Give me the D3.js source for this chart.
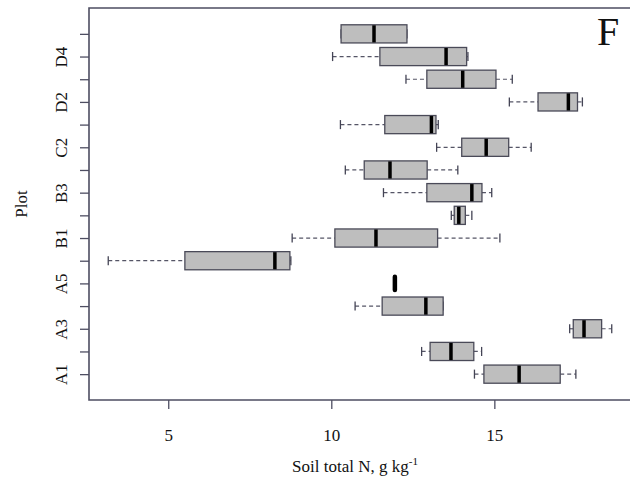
<!DOCTYPE html>
<html>
<head>
<meta charset="utf-8">
<script src="https://cdn.jsdelivr.net/npm/d3@7/dist/d3.min.js"></script>
<style>
  html, body { margin: 0; padding: 0; background: #fff; }
  text { font-family: "Liberation Serif", "DejaVu Serif", serif; fill: #111; }
</style>
</head>
<body>
<svg id="chart" width="630" height="486"></svg>
<script>
// ---- data ----
const plots   = ["A1","A2","A3","A4","A5","A6","B1","B2","B3","C1","C2","D1","D2","D3","D4","D5"];
const whiskLo = [14.39, 12.77, 17.31, 10.73, 11.95, 3.16,  8.80, 13.68, 11.60, 10.43, 13.23, 10.28, 15.46, 12.29, 10.04, 10.30];
const q1      = [14.68, 13.03, 17.42, 11.56, 11.95, 5.51, 10.11, 13.77, 12.93, 11.01, 14.00, 11.64, 16.34, 12.93, 11.49, 10.30];
const median  = [15.76, 13.67, 17.75, 12.90, 11.95, 8.27, 11.37, 13.91, 14.31, 11.80, 14.75, 13.07, 17.27, 14.03, 13.52, 11.31];
const q3      = [17.02, 14.37, 18.29, 13.43, 11.95, 8.73, 13.26, 14.11, 14.62, 12.94, 15.44, 13.21, 17.55, 15.05, 14.15, 12.32];
const whiskHi = [17.50, 14.61, 18.60, 13.43, 11.95, 8.76, 15.17, 14.31, 14.92, 13.88, 16.13, 13.28, 17.70, 15.55, 14.19, 12.32];
const xTicks  = [5, 10, 15];
const xTitle  = "Soil total N, g kg";
const xTitleSup = "-1";
const yTitle  = "Plot";
const panelLabel = "F";

const rows = plots.map((p, i) => ({
  name: p, pos: i + 1,
  lo: whiskLo[i], q1: q1[i], med: median[i], q3: q3[i], hi: whiskHi[i]
}));

const svg = d3.select("#chart");
const mLeft = 89, mRight = 630, mTop = 8, mBottom = 400;
const axisColor = "#4e4e62";

const x = d3.scaleLinear().domain([2.57, 19.16]).range([mLeft, mRight]);
const y = d3.scaleLinear().domain([-0.14, 17.14]).range([mBottom, mTop]);
const half = y(0) - y(0.4);      // box half-height (boxwex 0.8)
const capHalf = y(0) - y(0.2);   // staple half-height

// ---- boxes ----
const g = svg.append("g");
const box = g.selectAll("g.box").data(rows).join("g").attr("class", "box");

// whiskers (dashed)
box.filter(d => d.lo < d.q1).append("line")
  .attr("x1", d => x(d.lo)).attr("x2", d => x(d.q1))
  .attr("y1", d => y(d.pos)).attr("y2", d => y(d.pos))
  .attr("stroke", "#555566").attr("stroke-width", 1.2).attr("stroke-dasharray", "4,3");
box.filter(d => d.hi > d.q3).append("line")
  .attr("x1", d => x(d.q3)).attr("x2", d => x(d.hi))
  .attr("y1", d => y(d.pos)).attr("y2", d => y(d.pos))
  .attr("stroke", "#555566").attr("stroke-width", 1.2).attr("stroke-dasharray", "4,3");
// staples
box.filter(d => d.q3 > d.q1).append("line")
  .attr("x1", d => x(d.lo)).attr("x2", d => x(d.lo))
  .attr("y1", d => y(d.pos) - capHalf).attr("y2", d => y(d.pos) + capHalf)
  .attr("stroke", "#444455").attr("stroke-width", 1.3);
box.filter(d => d.q3 > d.q1).append("line")
  .attr("x1", d => x(d.hi)).attr("x2", d => x(d.hi))
  .attr("y1", d => y(d.pos) - capHalf).attr("y2", d => y(d.pos) + capHalf)
  .attr("stroke", "#444455").attr("stroke-width", 1.3);
// box rect
box.filter(d => d.q3 > d.q1).append("rect")
  .attr("x", d => x(d.q1)).attr("width", d => x(d.q3) - x(d.q1))
  .attr("y", d => y(d.pos) - half).attr("height", 2 * half)
  .attr("fill", "#bebebe").attr("stroke", "#4a4a58").attr("stroke-width", 1.3);
// median
box.append("line")
  .attr("x1", d => x(d.med)).attr("x2", d => x(d.med))
  .attr("y1", d => y(d.pos) - half + (d.q3 > d.q1 ? 0.5 : 2.5))
  .attr("y2", d => y(d.pos) + half - (d.q3 > d.q1 ? 0.5 : 2.5))
  .attr("stroke", "#000").attr("stroke-width", d => d.q3 > d.q1 ? 3.5 : 4.5)
  .attr("stroke-linecap", d => d.q3 > d.q1 ? "butt" : "round");

// ---- frame ----
svg.append("path")
  .attr("d", `M${mRight + 2},${mTop} H${mLeft} V${mBottom} H${mRight + 2}`)
  .attr("fill", "none").attr("stroke", axisColor).attr("stroke-width", 1.6);

// ---- axes ----
const xAxis = svg.append("g").attr("transform", `translate(0,${mBottom})`)
  .call(d3.axisBottom(x).tickValues(xTicks).tickSize(9).tickPadding(20).tickFormat(d3.format("d")));
xAxis.select(".domain").remove();
xAxis.selectAll(".tick line").attr("stroke", axisColor).attr("stroke-width", 1.3);
xAxis.selectAll(".tick text").attr("font-size", 17).attr("font-family", "Liberation Serif").attr("fill", "#111");

const yAxis = svg.append("g").attr("transform", `translate(${mLeft},0)`)
  .call(d3.axisLeft(y).tickValues(rows.map(d => d.pos)).tickSize(9)
    .tickFormat(d => (d % 2 === 1 ? plots[d - 1] : "")));
yAxis.select(".domain").remove();
yAxis.selectAll(".tick line").attr("stroke", axisColor).attr("stroke-width", 1.3);
yAxis.selectAll(".tick text")
  .attr("font-size", 17).attr("font-family", "Liberation Serif").attr("fill", "#111")
  .attr("x", 0).attr("dy", 0)
  .attr("text-anchor", "middle")
  .attr("transform", "translate(-22,0) rotate(-90)");

// ---- titles ----
const xt = svg.append("text").attr("x", 355).attr("y", 472)
  .attr("text-anchor", "middle").attr("font-size", 17);
xt.append("tspan").text(xTitle);
xt.append("tspan").text(xTitleSup).attr("font-size", 11).attr("dy", -7);

svg.append("text").attr("transform", "translate(27,204) rotate(-90)")
  .attr("text-anchor", "middle").attr("font-size", 17).text(yTitle);

svg.append("text").attr("x", 597).attr("y", 45)
  .attr("font-size", 40).text(panelLabel);
</script>
</body>
</html>
